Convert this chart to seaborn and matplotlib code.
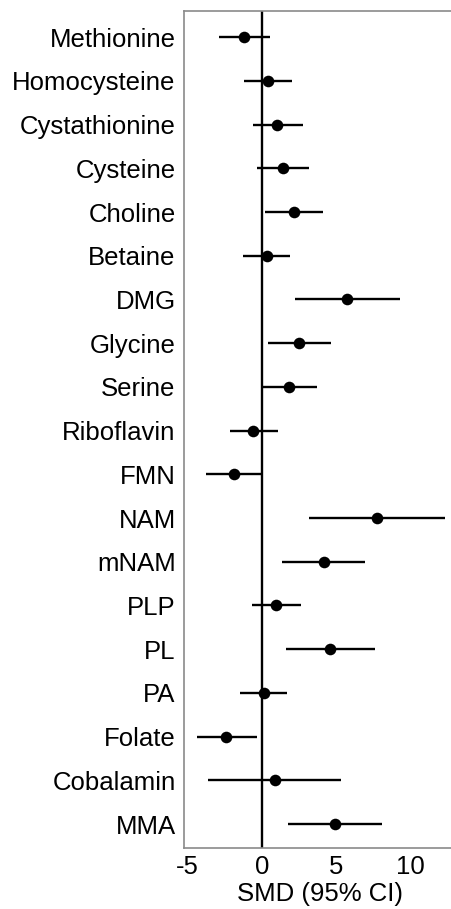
import numpy as np
import pandas as pd
import matplotlib
matplotlib.use("Agg")
import matplotlib.pyplot as plt
import seaborn as sns

# Standardised mean differences with 95% confidence limits
markers = ["Methionine", "Homocysteine", "Cystathionine", "Cysteine", "Choline",
           "Betaine", "DMG", "Glycine", "Serine", "Riboflavin", "FMN", "NAM",
           "mNAM", "PLP", "PL", "PA", "Folate", "Cobalamin", "MMA"]
smd = [-1.20, 0.41, 1.04, 1.41, 2.13, 0.32, 5.71, 2.52, 1.79, -0.59, -1.86,
       7.73, 4.15, 0.97, 4.60, 0.14, -2.40, 0.86, 4.90]
ci_low = [-2.90, -1.18, -0.63, -0.36, 0.18, -1.27, 2.20, 0.41, -0.05, -2.18,
          -3.74, 3.18, 1.36, -0.70, 1.59, -1.50, -4.37, -3.65, 1.77]
ci_high = [0.52, 2.00, 2.74, 3.15, 4.13, 1.90, 9.27, 4.63, 3.67, 1.07, -0.02,
           12.29, 6.94, 2.65, 7.60, 1.70, -0.32, 5.35, 8.07]
x_ticks = [-5, 0, 5, 10]

df = pd.DataFrame({"marker": markers, "smd": smd, "lo": ci_low, "hi": ci_high})
df["row"] = np.arange(len(df))

sns.set_style("white")
plt.rcParams["font.family"] = ["Liberation Sans", "DejaVu Sans"]

fig = plt.figure(figsize=(4.52, 9.09), dpi=100)
ax = fig.add_axes([0.407, 0.067, 0.60, 0.921])

# confidence intervals
ax.hlines(df["row"], df["lo"], df["hi"], color="black", linewidth=1.7, zorder=2)
# line of no effect
ax.axvline(0, color="black", linewidth=1.7, zorder=1)
# point estimates
sns.scatterplot(data=df, x="smd", y="row", ax=ax, color="black", s=70,
                edgecolor="black", linewidth=0, zorder=3, legend=False)

n = len(df)
ax.set_ylim(n - 1 + 0.55, -0.6)
ax.set_xlim(-5.25, 13.0)
ax.set_yticks(df["row"])
ax.set_yticklabels(df["marker"])
ax.set_xticks(x_ticks)
ax.set_xticklabels([str(t) for t in x_ticks])
ax.set_xlabel("SMD (95% CI)", fontsize=18.5, labelpad=2, color="black")
ax.set_ylabel("")

ax.tick_params(axis="y", length=0, pad=6, labelsize=18.5, labelcolor="black")
ax.tick_params(axis="x", length=3, width=1, color="#888888", pad=2,
               labelsize=18.5, labelcolor="black")

for side in ["left", "top", "bottom"]:
    ax.spines[side].set_visible(True)
    ax.spines[side].set_color("#8a8a8a")
    ax.spines[side].set_linewidth(1.2)
ax.spines["right"].set_visible(False)

fig.savefig("out.png", dpi=100)
